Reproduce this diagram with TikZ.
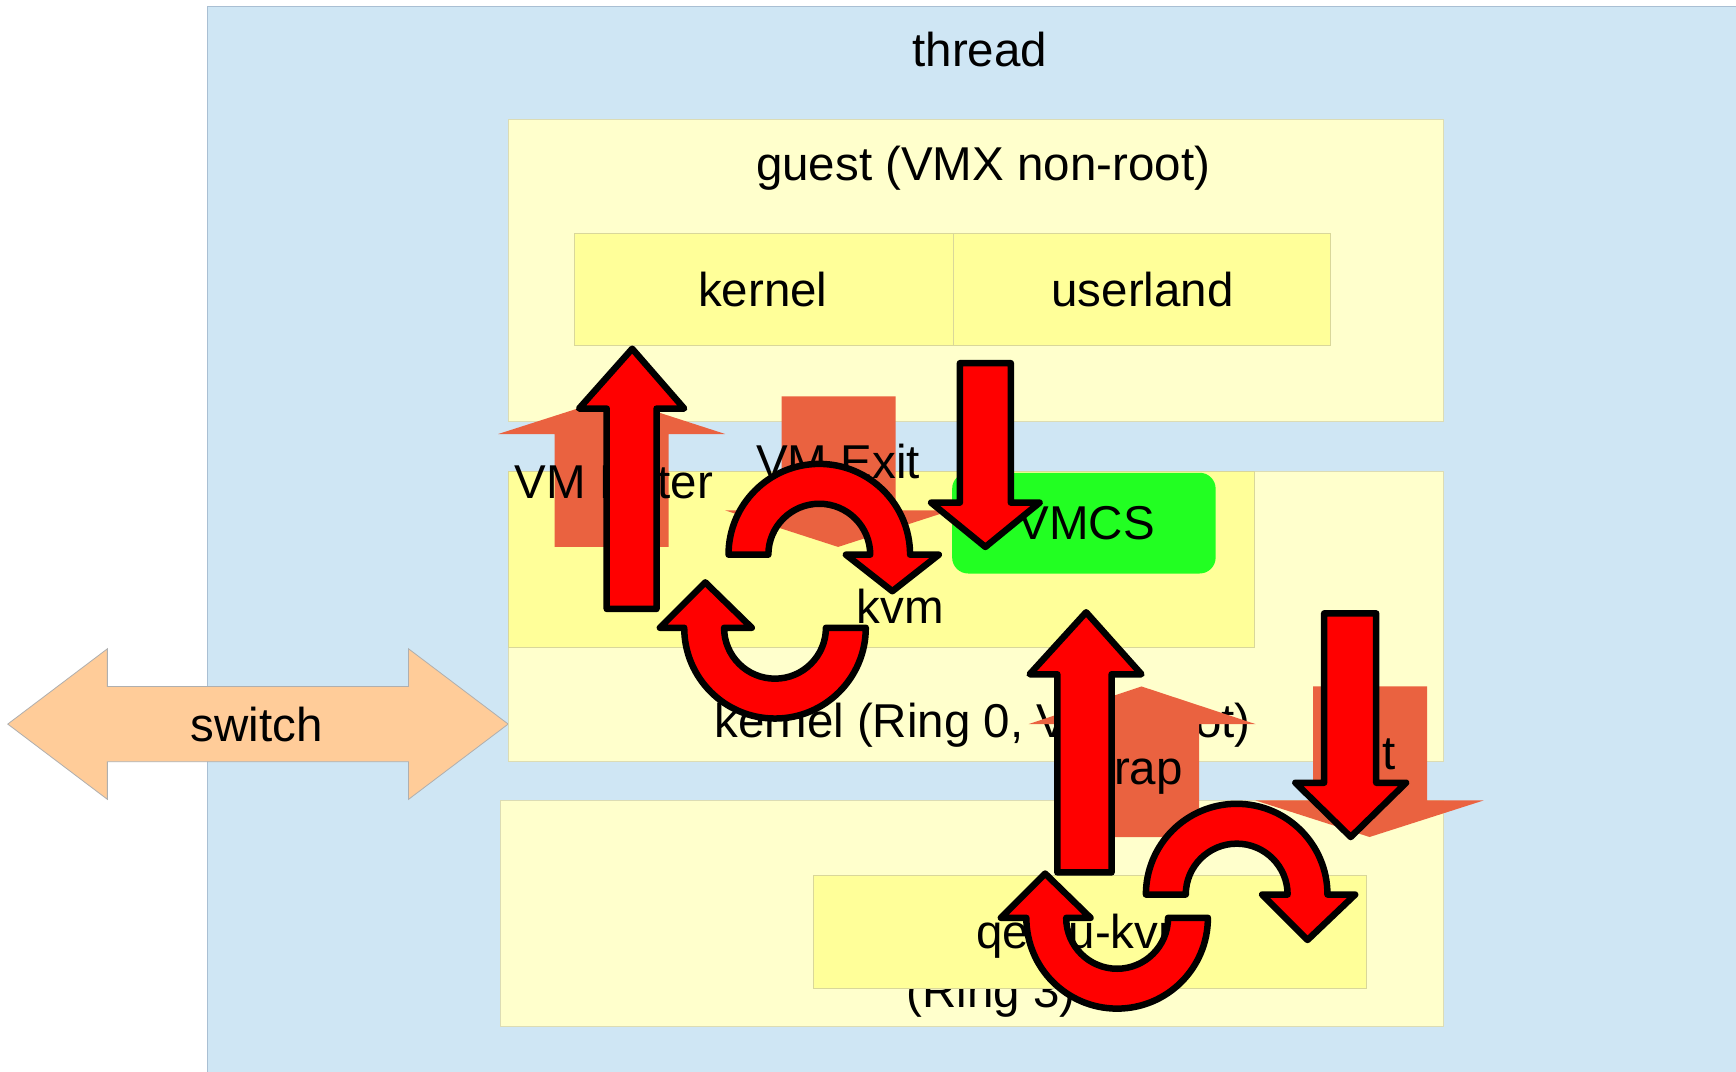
\documentclass[tikz,border=0pt]{standalone}
\usepackage{fontspec}
\setmainfont{Liberation Sans}
\definecolor{threadbg}{HTML}{CFE6F4}
\definecolor{threadln}{HTML}{A9BFD3}
\definecolor{paleY}{HTML}{FFFFCC}
\definecolor{paleYln}{HTML}{DCDCB4}
\definecolor{deepY}{HTML}{FFFF99}
\definecolor{deepYln}{HTML}{D9D79A}
\definecolor{vmcsgreen}{HTML}{22FF22}
\definecolor{swfill}{HTML}{FFCC99}
\definecolor{swline}{HTML}{AFAFAF}
\definecolor{orng}{HTML}{EA6240}
\begin{document}
\begin{tikzpicture}[x=1.10714pt,y=-1.10714pt,
  lbl/.style={inner sep=0pt,anchor=base,font=\fontsize{47.5}{57}\selectfont},
  palebox/.style={fill=paleY,draw=paleYln,line width=1pt},
  yelbox/.style={fill=deepY,draw=deepYln,line width=1pt},
  flatarrow/.style={fill=orng},
  redarrow/.style={fill=red,draw=black,line width=6.5pt,line join=round},
]
\clip (0,0) rectangle (1568,968);
\fill[white] (0,0) rectangle (1568,968);
% thread
\draw[fill=threadbg,draw=threadln,line width=1pt] (187,5.5) rectangle (1600,1000);
\node[lbl] (thread) at (885,60) {thread};
% switch
\draw[fill=swfill,draw=swline,line width=0.8pt] (7,654) -- (97,586) -- (97,620) -- (369,620) -- (369,586) -- (459,654) -- (369,722) -- (369,688) -- (97,688) -- (97,722) -- cycle;
\node[lbl] (switch) at (232,670) {switch};
% guest
\draw[palebox] (459,108) rectangle (1304,381);
\node[lbl] (guest) at (888,163) {guest (VMX non-root)};
\draw[yelbox] (519,211) rectangle (861,312);
\draw[yelbox] (861,211) rectangle (1202,312);
\node[lbl] (gkernel) at (689,277) {kernel};
\node[lbl] (guser) at (1032,277) {userland};
% host kernel
\draw[palebox] (459,426) rectangle (1304,688);
\node[lbl] (hkernel) at (887.5,666) {kernel (Ring 0, VMX root)};
\draw[yelbox] (459,426) rectangle (1133,585);
\node[lbl] (kvm) at (813,563) {kvm};
\fill[vmcsgreen,rounded corners=16pt] (860,427) rectangle (1098,518);
\node[lbl] (vmcs) at (981,487) {VMCS};
% user
\draw[palebox] (452,723) rectangle (1304,927);
\node[lbl] (ring3) at (895,910) {(Ring 3)};
\draw[yelbox] (735,791) rectangle (1234,893);
\node[lbl] (qemu) at (982,857) {qemu-kvm};
% orange arrows
\fill[flatarrow] (501,494) -- (501,392) -- (450,392) -- (553,359) -- (655,392) -- (604,392) -- (604,494) -- cycle;
\fill[flatarrow] (706,358) -- (809,358) -- (809,461) -- (859,461) -- (757,494) -- (655,461) -- (706,461) -- cycle;
\fill[flatarrow] (979,756) -- (979,654) -- (929,654) -- (1031,620) -- (1134,654) -- (1083,654) -- (1083,756) -- cycle;
\fill[flatarrow] (1186,620) -- (1289,620) -- (1289,723) -- (1340,723) -- (1237,756) -- (1134,723) -- (1186,723) -- cycle;
\node[lbl] (venter) at (554.5,450) {VM Enter};
\node[lbl] (vexit) at (757,432) {VM Exit};
\node[lbl] (trap) at (1025,709) {Trap};
\node[lbl,anchor=base east] (exit2) at (1261,695) {t};
% red arrows
\draw[redarrow] (548,550) -- (548,369) -- (523,369) -- (571,315) -- (618,369) -- (593,369) -- (593,550) -- cycle;
\draw[redarrow] (867,328) -- (913,328) -- (913,454) -- (939,454) -- (890,494) -- (841,454) -- (867,454) -- cycle;
\draw[redarrow] (955,788) -- (955,609) -- (930,609) -- (981,553) -- (1031,609) -- (1004,609) -- (1004,788) -- cycle;
\draw[redarrow] (1196,554) -- (1243,554) -- (1243,707) -- (1270,707) -- (1220,756) -- (1170,707) -- (1196,707) -- cycle;
% circular arrows
\draw[redarrow] (658,501) arc[start angle=180,end angle=360,radius=82] -- (848,501) -- (806,534) -- (764,501) -- (786,501) arc[start angle=360,end angle=180,radius=46] -- cycle;
\draw[redarrow] (782,567) arc[start angle=0,end angle=180,radius=82] -- (596,567) -- (637,526) -- (679,567) -- (654,567) arc[start angle=180,end angle=0,radius=46] -- cycle;
\draw[redarrow] (1035,808) arc[start angle=180,end angle=360,radius=82] -- (1224,808) -- (1181,849) -- (1140,808) -- (1163,808) arc[start angle=360,end angle=180,radius=46] -- cycle;
\draw[redarrow] (1091,829) arc[start angle=0,end angle=180,radius=82] -- (904,829) -- (944,789) -- (985,829) -- (963,829) arc[start angle=180,end angle=0,radius=46] -- cycle;
\end{tikzpicture}
\end{document}
